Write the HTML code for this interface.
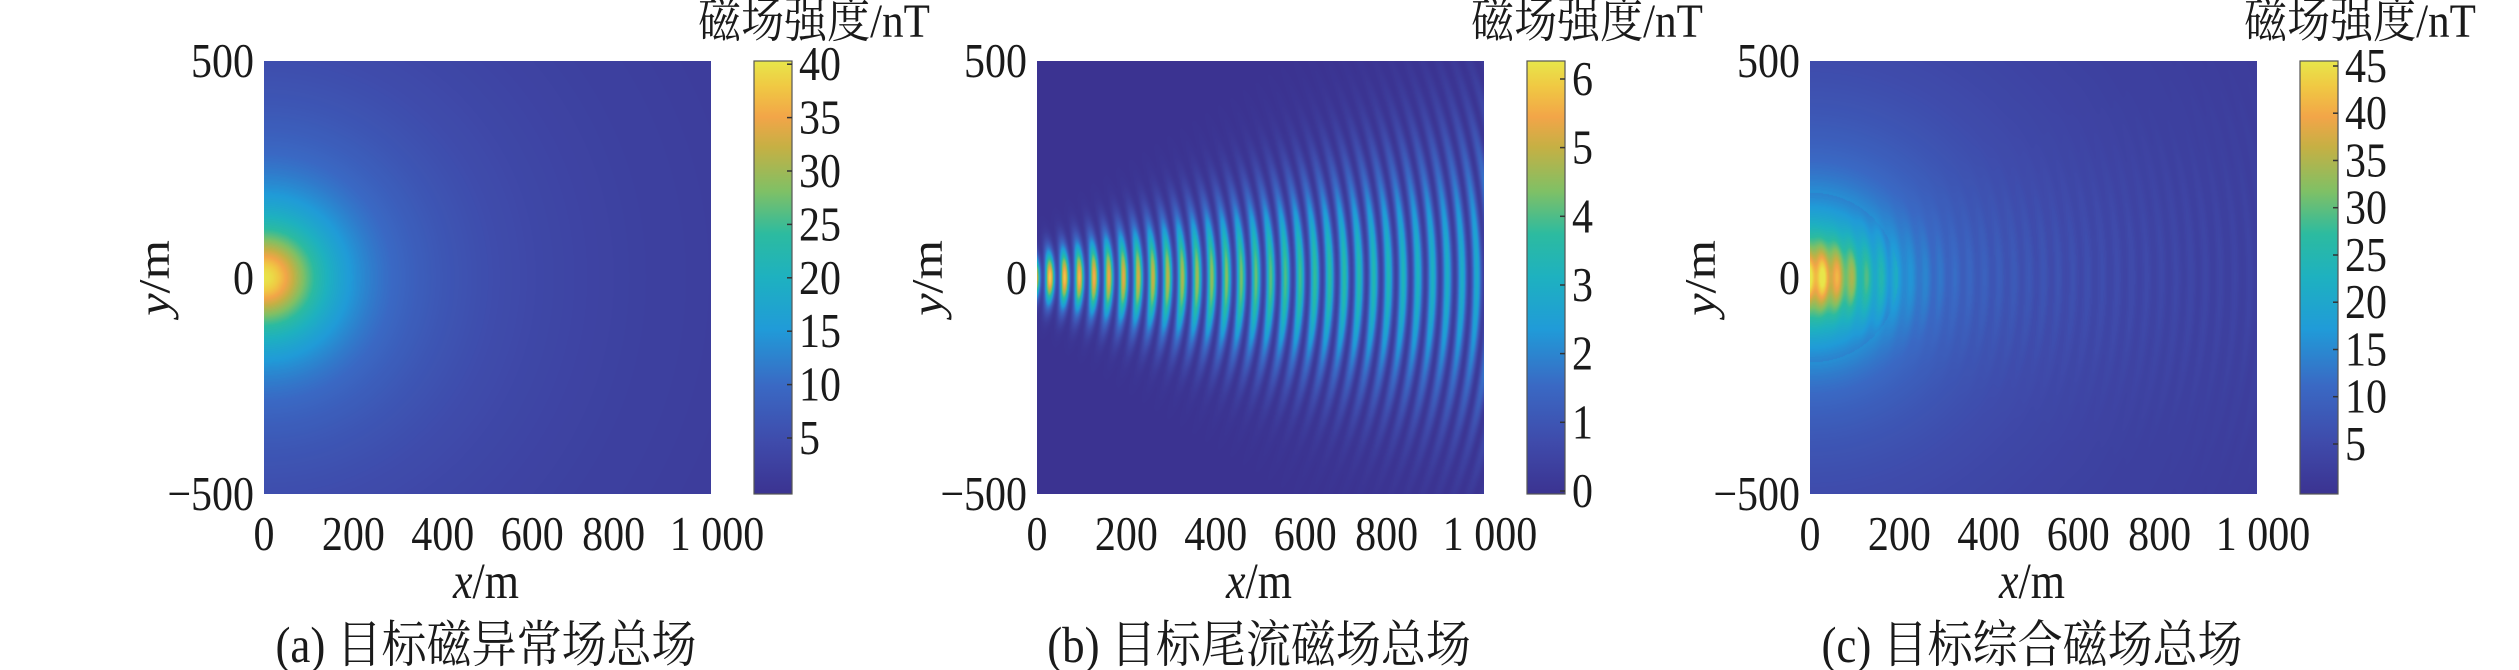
<!DOCTYPE html>
<html><head><meta charset="utf-8">
<style>
html,body{margin:0;padding:0;background:#fff;}
#wrap{position:relative;width:2519px;height:670px;overflow:hidden;background:#fff;}
canvas{position:absolute;}
svg{position:absolute;left:0;top:0;}
text{font-family:"Liberation Serif","Noto Serif CJK SC",serif;fill:#1a1a1a;}
</style></head>
<body>
<div id="wrap">
<canvas id="c0" width="447" height="433" style="left:264px;top:61px"></canvas>
<canvas id="c1" width="447" height="433" style="left:1037px;top:61px"></canvas>
<canvas id="c2" width="447" height="433" style="left:1810px;top:61px"></canvas>
<svg width="2519" height="670" viewBox="0 0 2519 670">
<defs>
<linearGradient id="pg" x1="0" y1="1" x2="0" y2="0">
<stop offset="0" stop-color="#3b3391"/>
<stop offset="0.12" stop-color="#3f4bab"/>
<stop offset="0.25" stop-color="#3a69c4"/>
<stop offset="0.38" stop-color="#209bd8"/>
<stop offset="0.5" stop-color="#1eb1c0"/>
<stop offset="0.6" stop-color="#2cbba0"/>
<stop offset="0.7" stop-color="#80c065"/>
<stop offset="0.8" stop-color="#c5b044"/>
<stop offset="0.87" stop-color="#f2a548"/>
<stop offset="0.94" stop-color="#f0c843"/>
<stop offset="1" stop-color="#e8e64a"/>
</linearGradient>
</defs>
<g id="labels"></g>
</svg>
</div>
<script>
var stops=[[0,'#3b3391'],[0.12,'#3f4bab'],[0.25,'#3a69c4'],[0.38,'#209bd8'],[0.5,'#1eb1c0'],[0.6,'#2cbba0'],[0.7,'#80c065'],[0.8,'#c5b044'],[0.87,'#f2a548'],[0.94,'#f0c843'],[1,'#e8e64a']];
function hx(h){return [parseInt(h.substr(1,2),16),parseInt(h.substr(3,2),16),parseInt(h.substr(5,2),16)];}
var S=stops.map(function(s){return [s[0],hx(s[1])];});
var LUT=[];
for(var i=0;i<=255;i++){var t=i/255;var k=0;while(k<S.length-2&&t>S[k+1][0])k++;
var a=S[k],b=S[k+1];var f=(t-a[0])/(b[0]-a[0]);f=Math.max(0,Math.min(1,f));
LUT.push([a[1][0]+(b[1][0]-a[1][0])*f,a[1][1]+(b[1][1]-a[1][1])*f,a[1][2]+(b[1][2]-a[1][2])*f]);}
function fa(x,y){var r2=x*x+y*y;return 40*Math.pow(10000/(10000+r2),0.62);}
function fb(x,y){var A=6.2*Math.exp(-x/1300);var w=55+0.27*x;var env=Math.exp(-(y*y)/(w*w));
var ph=Math.sqrt((x+500)*(x+500)+y*y);var c=Math.cos(Math.PI*ph/33);return A*env*(0.12+0.88*c*c);}
function fc(x,y){var a=fa(x,y);var b=fb(x,y);return a*1.06+0.55*b+ (a>15? (b-2)*0.8:0);}
var fns=[fa,fb,fc],ranges=[[0,40.3],[0,6.26],[0,45.5]];
for(var p=0;p<3;p++){var cv=document.getElementById('c'+p);var ctx=cv.getContext('2d');
var W=447,H=433;var img=ctx.createImageData(W,H);var d=img.data;
for(var j=0;j<H;j++){var y=500-1000*j/(H-1);for(var i=0;i<W;i++){var x=1000*i/(W-1);
var v=fns[p](x,y);var t=(v-ranges[p][0])/(ranges[p][1]-ranges[p][0]);t=Math.max(0,Math.min(1,t));
var c=LUT[Math.round(t*255)];var o=(j*W+i)*4;d[o]=c[0];d[o+1]=c[1];d[o+2]=c[2];d[o+3]=255;}}
ctx.putImageData(img,0,0);}
var ox=[264,1037,1810];
var caps=['(a) 目标磁异常场总场','(b) 目标尾流磁场总场','(c) 目标综合磁场总场'];
var cb=[
 {ticks:[[5,438],[10,384.6],[15,331.2],[20,277.8],[25,224.4],[30,171],[35,117.6],[40,64.2]]},
 {ticks:[[0,491],[1,422.3],[2,353.6],[3,285],[4,216.3],[5,147.6],[6,79]]},
 {ticks:[[5,444],[10,396.7],[15,349.5],[20,302.2],[25,255],[30,207.7],[35,160.5],[40,113.2],[45,66]]}];
function T(x,y,s,fs,anc,sy){return '<text transform="translate('+x+','+y+') scale(1,'+(sy||1.15)+')" font-size="'+fs+'" text-anchor="'+(anc||'start')+'">'+s+'</text>';}
var h='';
for(var p=0;p<3;p++){var o=ox[p];
 var bx=o+490;
 h+='<rect x="'+bx+'" y="61" width="38" height="433" fill="url(#pg)" stroke="#555" stroke-width="1.2"/>';
 cb[p].ticks.forEach(function(t){h+='<line x1="'+(bx+38)+'" y1="'+t[1]+'" x2="'+(bx+33)+'" y2="'+t[1]+'" stroke="#333" stroke-width="1.5"/>';
  h+=T(bx+45,t[1]+16,t[0],42);});
 h+=T(o+550,37,'磁场强度/nT',43,'middle',1.12);
 h+=T(o-10,77,'500',42,'end');
 h+=T(o-10,294,'0',42,'end');
 h+=T(o-10,510,'−500',42,'end');
 var xl=[['0',0],['200',200],['400',400],['600',600],['800',800],['1 000',1000]];
 xl.forEach(function(t){var xx=o+447*t[1]/1000;if(t[1]==800)xx-=8;if(t[1]==1000)xx+=6;
  h+=T(xx,550,t[0],42,'middle');});
 h+=T(o+222,598,'<tspan font-style="italic">x</tspan>/m',44,'middle');
 h+='<text transform="translate('+(o-95)+',278) rotate(-90) scale(1.15,1)" font-size="44" text-anchor="middle"><tspan font-style="italic">y</tspan>/m</text>';
 h+=T(o+222,662,caps[p],45,'middle',1.12);
}
document.getElementById('labels').innerHTML=h;
</script>
</body></html>
